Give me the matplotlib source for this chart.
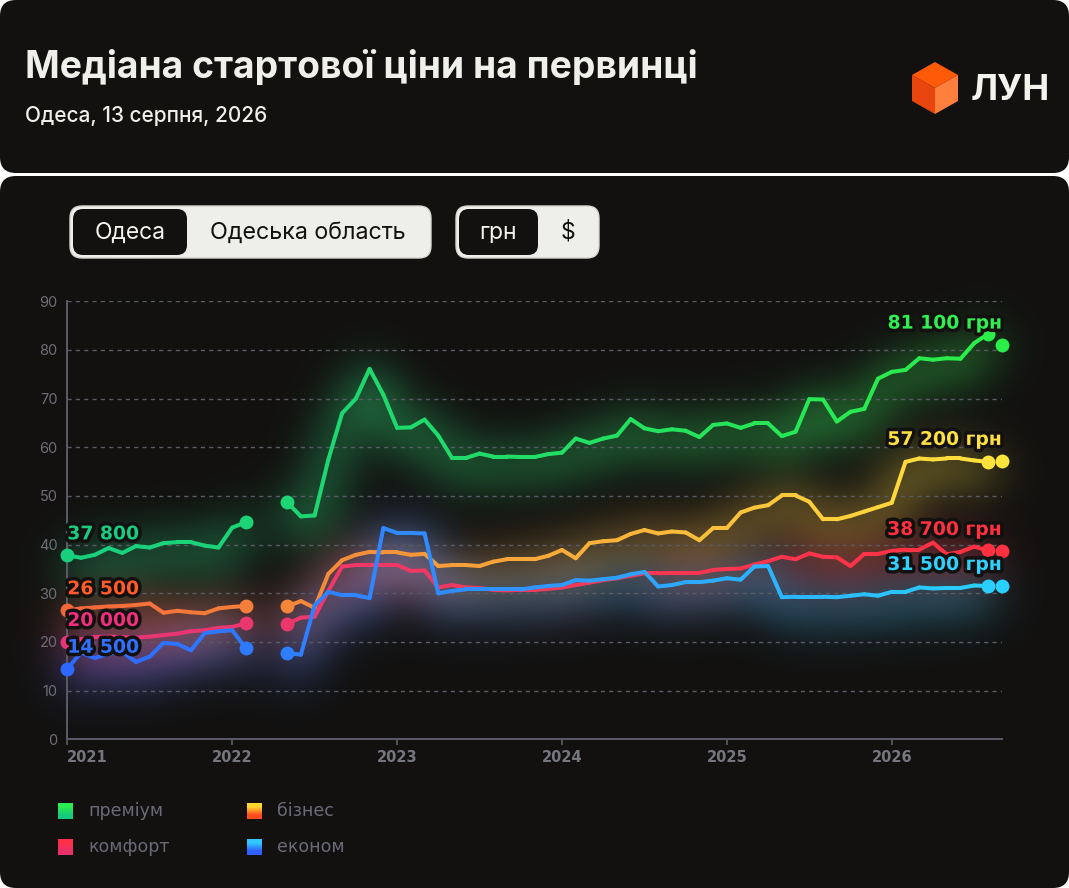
import numpy as np
import matplotlib
matplotlib.use("Agg")
import matplotlib.pyplot as plt
from matplotlib.collections import LineCollection
from matplotlib.colors import LinearSegmentedColormap, to_rgb
from matplotlib.patches import FancyBboxPatch, Polygon
import matplotlib.patheffects as pe

nan = np.nan

# місячні точки: січень 2021 ... вересень 2026 (березень-квітень 2022 немає даних)
years = ["2021", "2022", "2023", "2024", "2025", "2026"]
premium = [37.8, 37.3, 37.9, 39.3, 38.3, 39.7, 39.4, 40.3, 40.5, 40.5, 39.8, 39.4, 43.5, 44.6, nan, nan,
           48.7, 45.8, 46.0, 57.5, 67.0, 70.0, 76.1, 70.8, 64.0, 64.1, 65.7, 62.4, 57.8, 57.8, 58.7, 58.1,
           58.1, 58.0, 58.0, 58.6, 58.9, 61.8, 60.9, 61.8, 62.4, 65.8, 63.9, 63.3, 63.7, 63.4, 62.1, 64.6,
           64.9, 64.0, 64.9, 64.9, 62.3, 63.2, 69.9, 69.8, 65.3, 67.3, 67.9, 74.1, 75.5, 75.9, 78.3, 78.0,
           78.3, 78.2, 81.4, 83.3, 81.1]
business = [26.5, 26.9, 27.1, 27.3, 27.4, 27.6, 27.9, 26.0, 26.4, 26.1, 25.9, 26.9, 27.2, 27.4, nan, nan,
            27.3, 28.4, 27.0, 34.0, 36.8, 37.9, 38.5, 38.4, 38.4, 37.9, 38.1, 35.6, 35.8, 35.8, 35.6, 36.5,
            37.0, 37.0, 37.0, 37.7, 38.9, 37.2, 40.3, 40.7, 40.9, 42.2, 43.0, 42.3, 42.7, 42.5, 40.9, 43.4,
            43.4, 46.6, 47.6, 48.1, 50.1, 50.1, 48.8, 45.2, 45.2, 45.9, 46.8, 47.7, 48.6, 57.0, 57.7, 57.5,
            57.7, 57.7, 57.3, 57.0, 57.2]
comfort = [20.0, 20.6, 21.0, 21.1, 21.0, 20.9, 21.1, 21.4, 21.7, 22.2, 22.4, 22.9, 23.1, 23.8, nan, nan,
           23.7, 25.0, 25.2, 30.5, 35.5, 35.8, 35.8, 35.8, 35.8, 34.6, 34.7, 31.2, 31.7, 31.2, 31.1, 30.7,
           30.6, 30.7, 30.7, 30.9, 31.2, 31.7, 32.2, 32.7, 33.1, 33.6, 34.1, 34.1, 34.2, 34.2, 34.2, 34.8,
           35.0, 35.1, 35.9, 36.6, 37.5, 37.0, 38.2, 37.5, 37.4, 35.6, 38.1, 38.1, 38.7, 39.0, 39.0, 40.4,
           38.0, 38.5, 39.6, 38.8, 38.7]
econom = [14.5, 17.8, 16.7, 17.6, 18.0, 15.9, 17.0, 19.8, 19.6, 18.3, 21.8, 22.2, 22.4, 18.7, nan, nan,
          17.7, 17.4, 27.5, 30.3, 29.6, 29.6, 29.0, 43.4, 42.4, 42.4, 42.3, 30.0, 30.5, 30.8, 30.8, 30.8,
          30.8, 30.8, 31.2, 31.5, 31.7, 32.7, 32.6, 32.9, 33.2, 33.9, 34.4, 31.4, 31.7, 32.3, 32.3, 32.6,
          33.1, 32.8, 35.5, 35.6, 29.2, 29.3, 29.3, 29.3, 29.2, 29.5, 29.8, 29.5, 30.3, 30.3, 31.2, 31.0,
          31.1, 31.1, 31.6, 31.5, 31.5]

names = ["преміум", "бізнес", "комфорт", "економ"]
series = [premium, business, comfort, econom]
grads = [["#18cf7e", "#22dd66", "#2cee48"],
         ["#f2663a", "#f7a93a", "#ffe43c"],
         ["#e6357a", "#f23a5c", "#ff3040"],
         ["#2f68ff", "#2f96ff", "#2ad0ff"]]
start_lbl = ["#19cc80", "#ff5a2a", "#f0307a", "#3070ff"]
end_lbl = ["#2ef050", "#ffe040", "#ff3040", "#30d0ff"]
legend_cols = [("#2cec50", "#15c97c"), ("#ffd530", "#ff4a1e"),
               ("#ff3048", "#e8306a"), ("#30c8ff", "#3060ff")]

W, H = 1069, 888
BG = "#121110"
AX_POS = [67.3 / W, (H - 739.3) / H, (1001.7 - 67.3) / W, (739.3 - 301.3) / H]
x = np.arange(len(premium))
pieces = [(0, 13), (16, 67)]


def seg_lines(target, k, vals, lw):
    cmap = LinearSegmentedColormap.from_list(f"g{k}", grads[k])
    for a, b in pieces:
        xs, ys = x[a:b + 1], vals[a:b + 1]
        pts = np.column_stack([xs, ys])
        segs = np.stack([pts[:-1], pts[1:]], axis=1)
        mids = (xs[:-1] + xs[1:]) / 2 / 68
        target.add_collection(LineCollection(segs, colors=cmap(mids), linewidths=lw,
                                             capstyle="round", joinstyle="round", zorder=3 + k * 0.1))
    return cmap


# сяйво: малюємо лінії окремо, розмиваємо і кладемо під графік
gfig = plt.figure(figsize=(W / 100, H / 100), dpi=100, facecolor="black")
gax = gfig.add_axes(AX_POS)
gax.set_facecolor("black")
gax.set_xlim(0, 68)
gax.set_ylim(0, 90)
gax.axis("off")
for k, vals in enumerate(series):
    seg_lines(gax, k, np.array(vals, dtype=float), 10)
gfig.canvas.draw()
glow = np.asarray(gfig.canvas.buffer_rgba())[:, :, :3].astype(float) / 255
plt.close(gfig)
sigma = 24.0
fy = np.fft.fftfreq(H)[:, None]
fx = np.fft.rfftfreq(W)[None, :]
kern = np.exp(-2 * np.pi ** 2 * sigma ** 2 * (fx ** 2 + fy ** 2))
blur = np.stack([np.fft.irfft2(np.fft.rfft2(glow[:, :, c]) * kern, s=(H, W)) for c in range(3)], axis=2)
blur = np.roll(blur, 10, axis=0)
r0, r1, c0, c1 = 262, 800, 10, 1059
patch = np.clip(np.array(to_rgb(BG)) + 1.0 * blur[r0:r1, c0:c1], 0, 1)

fig = plt.figure(figsize=(W / 100, H / 100), dpi=100, facecolor="white")
bg = fig.add_axes([0, 0, 1, 1])
bg.set_xlim(0, W)
bg.set_ylim(H, 0)
bg.axis("off")


def rbox(x0, y0, w, h, r, fc, ec="none", lw=0):
    bg.add_patch(FancyBboxPatch((x0, y0), w, h, boxstyle=f"round,pad=0,rounding_size={r}",
                                fc=fc, ec=ec, lw=lw))


# картки
rbox(0, 0, W, 173, 16, BG)
rbox(0, 176, W, H - 176, 16, BG)
bg.imshow(patch, extent=(c0, c1, r1, r0), aspect="auto", interpolation="nearest", zorder=1)

bg.text(25, 78, "Медіана стартової ціни на первинці", family="Inter", weight="bold",
        fontsize=26.8, color="#f0f0ea", va="baseline")
bg.text(25, 122, "Одеса, 13 серпня, 2026", family="Inter", weight="medium",
        fontsize=15, color="#f0f0ea", va="baseline")

# логотип
cx, cy = 935, 88
top, ur, lr, bot, ll, ul = (935, 62), (958, 75), (958, 101), (935, 114), (912, 101), (912, 75)
bg.add_patch(Polygon([top, ur, (cx, cy), ul], fc="#ff5a08"))
bg.add_patch(Polygon([ul, (cx, cy), bot, ll], fc="#e8450f"))
bg.add_patch(Polygon([(cx, cy), ur, lr, bot], fc="#ff7f3c"))
bg.text(971, 100, "ЛУН", family="Inter", weight="bold", fontsize=26, color="#f4f4ee", va="baseline")

# перемикачі
rbox(70, 206, 361, 52, 12, "#efefea", ec="#d6d6d0", lw=1)
rbox(73, 209, 114, 46, 10, BG)
bg.text(130, 233, "Одеса", family="Inter", fontsize=16.5, color="#f4f4ee", ha="center", va="center")
bg.text(308, 233, "Одеська область", family="Inter", fontsize=16.8, color=BG, ha="center", va="center")
rbox(456, 206, 143, 52, 12, "#efefea", ec="#d6d6d0", lw=1)
rbox(459, 209, 79, 46, 10, BG)
bg.text(498, 233, "грн", family="Inter", fontsize=16.5, color="#f4f4ee", ha="center", va="center")
bg.text(568, 232, "$", family="Inter", fontsize=16.5, color=BG, ha="center", va="center")

# легенда
leg_pos = [(58, 803), (247, 803), (58, 839), (247, 839)]
for (lx, ly), nm, (cA, cB) in zip(leg_pos, names, legend_cols):
    grad = np.array([[to_rgb(cA)], [to_rgb(cB)]])
    bg.imshow(grad, extent=(lx, lx + 15, ly + 16, ly), aspect="auto", interpolation="bilinear", zorder=3)
    bg.text(lx + 30, ly + 8, nm, family="DejaVu Sans", fontsize=12.5, color="#6a6a78", va="center")
bg.set_xlim(0, W)
bg.set_ylim(H, 0)

# графік
ax = fig.add_axes(AX_POS)
ax.set_facecolor("none")
ax.set_xlim(0, 68)
ax.set_ylim(0, 90)
for s in ["top", "right"]:
    ax.spines[s].set_visible(False)
for s in ["left", "bottom"]:
    ax.spines[s].set_color("#5c5c68")
    ax.spines[s].set_linewidth(1.4)
ax.set_yticks(range(0, 91, 10))
for v in range(10, 91, 10):
    ax.axhline(v, color="#5a5a64", lw=1, ls=(0, (3, 3)), zorder=0)
ax.tick_params(axis="y", length=0, pad=7, labelsize=10.5, labelcolor="#6e6e78")
ax.set_xticks(range(0, 61, 12))
ax.set_xticklabels(years)
ax.tick_params(axis="x", length=4, width=1.2, color="#5c5c68", pad=4, labelsize=10.5,
               labelcolor="#76767f")
for lab in ax.get_xticklabels():
    lab.set_fontweight("bold")
ax.get_xticklabels()[0].set_ha("left")
for lab in ax.get_yticklabels():
    lab.set_family("Inter")

stroke = [pe.withStroke(linewidth=5, foreground=BG)]

for k, vals in enumerate(series):
    vals = np.array(vals, dtype=float)
    cmap = seg_lines(ax, k, vals, 2.9)
    for i in [0, 13, 16, 67, 68]:
        ax.plot(x[i], vals[i], "o", ms=10, color=cmap(x[i] / 68), mec="none", zorder=5, clip_on=False)
    v0 = f"{int(round(vals[0] * 1000)):,}".replace(",", " ")
    v1 = f"{int(round(vals[-1] * 1000)):,}".replace(",", " ") + " грн"
    ax.annotate(v0, (0, vals[0]), xytext=(0, 15.5), textcoords="offset points", ha="left",
                va="center", family="DejaVu Sans", weight="bold", fontsize=13.5,
                color=start_lbl[k], path_effects=stroke, zorder=6, annotation_clip=False)
    ax.annotate(v1, (68, vals[-1]), xytext=(0, 15.5), textcoords="offset points", ha="right",
                va="center", family="DejaVu Sans", weight="bold", fontsize=13.5,
                color=end_lbl[k], path_effects=stroke, zorder=6, annotation_clip=False)

fig.savefig("out.png", dpi=100, facecolor="white")
